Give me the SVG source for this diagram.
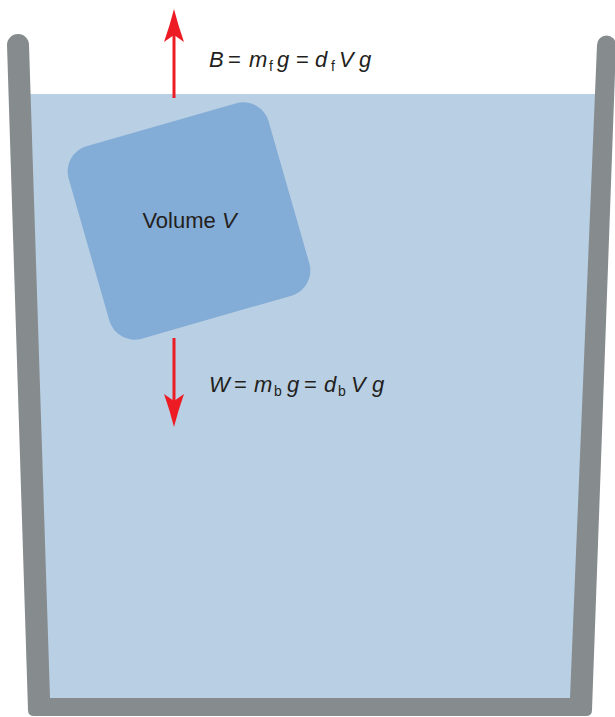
<svg xmlns="http://www.w3.org/2000/svg" width="615" height="717" viewBox="0 0 615 717">
<style>
.t{font-family:"Liberation Sans",Arial,sans-serif;font-size:22px;fill:#231f20}
.i{font-style:italic}
.s{font-size:14px;font-style:normal}
.arrow{stroke:#ed1c24;stroke-width:3;fill:none}
</style>
<defs>
<marker id="head" viewBox="-34 -11 35 22" markerWidth="35" markerHeight="22" refX="-26" refY="0" orient="auto" markerUnits="userSpaceOnUse">
<path d="M0,0 Q-16,-4 -33,-10 L-26,0 L-33,10 Q-16,4 0,0 Z" fill="#ed1c24"/>
</marker>
</defs>
<rect width="615" height="717" fill="#ffffff"/>
<g id="water">
<polygon points="25,94 600,94 575,702 45,702" fill="#b9cfe3"/>
</g>
<g id="container">
<path d="M7,45 A11,11 0 0 1 29,45 L50,698 L570,698 L597,45 A9.5,9.5 0 0 1 616,45 L592,710 Q592,716 586,716 L34,716 Q28,716 28,710 Z" fill="#868b8e"/>
</g>
<g id="block">
<rect x="85" y="121" width="208" height="200" rx="26" ry="26" fill="#83acd6" transform="rotate(-16 189 221)"/>
<text class="t" x="189.5" y="228" text-anchor="middle">Volume <tspan class="i">V</tspan></text>
</g>
<g id="connectors">
<line class="arrow" x1="174" y1="98" x2="174" y2="35" marker-end="url(#head)"/>
<line class="arrow" x1="174" y1="338" x2="174" y2="401" marker-end="url(#head)"/>
</g>
<g id="label-buoyancy">
<text class="t" y="67"><tspan class="i" x="209">B</tspan><tspan x="228">=</tspan><tspan class="i" x="249">m</tspan><tspan class="s" x="269" dy="4">f</tspan><tspan class="i" x="277" dy="-4">g</tspan><tspan x="296">=</tspan><tspan class="i" x="315">d</tspan><tspan class="s" x="331" dy="4">f</tspan><tspan class="i" x="339" dy="-4">V</tspan><tspan class="i" x="359">g</tspan></text>
</g>
<g id="label-weight">
<text class="t" y="392"><tspan class="i" x="209">W</tspan><tspan x="234">=</tspan><tspan class="i" x="254">m</tspan><tspan class="s" x="274" dy="4">b</tspan><tspan class="i" x="287" dy="-4">g</tspan><tspan x="304">=</tspan><tspan class="i" x="324">d</tspan><tspan class="s" x="338" dy="4">b</tspan><tspan class="i" x="351" dy="-4">V</tspan><tspan class="i" x="372">g</tspan></text>
</g>
</svg>
